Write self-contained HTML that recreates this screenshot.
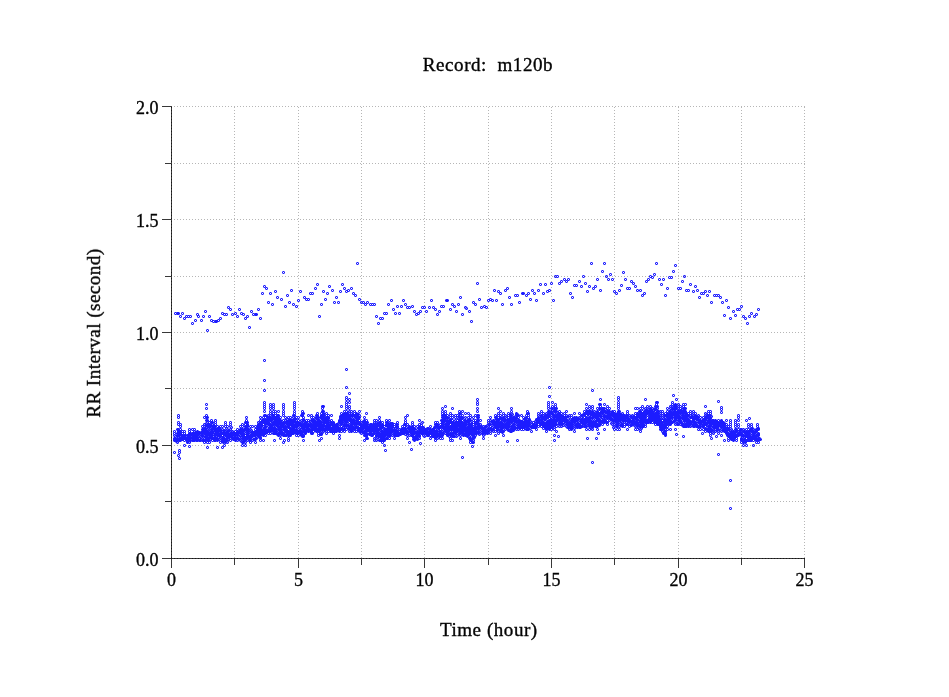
<!DOCTYPE html>
<html><head><meta charset="utf-8"><style>
html,body{margin:0;padding:0;background:#fff;}
svg{display:block;}
</style></head><body>
<svg width="949" height="697" viewBox="0 0 949 697">
<rect width="949" height="697" fill="#fff"/>
<path fill="none" stroke="#b6b6b6" stroke-width="1" stroke-dasharray="1 2" shape-rendering="crispEdges" d="M234.5 107V558M298.5 107V558M361.5 107V558M424.5 107V558M488.5 107V558M551.5 107V558M614.5 107V558M678.5 107V558M741.5 107V558M804.5 107V558M171 501.5H805M171 445.5H805M171 388.5H805M171 332.5H805M171 276.5H805M171 219.5H805M171 163.5H805M171 106.5H805"/><path fill="none" stroke="#383838" stroke-width="1" shape-rendering="crispEdges" d="M171.5 106V568M162 558.5H805M171.5 558V568M234.5 558V565M298.5 558V568M361.5 558V565M424.5 558V568M488.5 558V565M551.5 558V568M614.5 558V565M678.5 558V568M741.5 558V565M804.5 558V568M162 558.5H172M165 501.5H172M162 445.5H172M165 388.5H172M162 332.5H172M165 276.5H172M162 219.5H172M165 163.5H172M162 106.5H172"/><path fill="none" stroke="#181818" stroke-width="1" stroke-dasharray="1 2" shape-rendering="crispEdges" d="M171.5 107V558M171 558.5H805"/><g font-family="Liberation Serif" font-size="18" fill="#000" stroke="#000" stroke-width="0.35" opacity="0.99"><text x="171.5" y="586" text-anchor="middle">0</text><text x="298.5" y="586" text-anchor="middle">5</text><text x="424.5" y="586" text-anchor="middle">10</text><text x="551.5" y="586" text-anchor="middle">15</text><text x="678.5" y="586" text-anchor="middle">20</text><text x="804.5" y="586" text-anchor="middle">25</text><text x="158.5" y="565.5" text-anchor="end">0.0</text><text x="158.5" y="452.5" text-anchor="end">0.5</text><text x="158.5" y="339.5" text-anchor="end">1.0</text><text x="158.5" y="226.5" text-anchor="end">1.5</text><text x="158.5" y="113.5" text-anchor="end">2.0</text><text transform="translate(488,71) scale(1.06,1)" text-anchor="middle" letter-spacing="0.5" xml:space="preserve">Record:  m120b</text><text transform="translate(488.8,636) scale(1.06,1)" text-anchor="middle" letter-spacing="0.5">Time (hour)</text><text transform="translate(100,333) rotate(-90) scale(1.06,1)" text-anchor="middle" letter-spacing="0.45">RR Interval (second)</text></g><defs><marker id="m" markerUnits="userSpaceOnUse" markerWidth="4" markerHeight="4" refX="1" refY="1" overflow="visible"><path shape-rendering="crispEdges" fill="#1c1cff" d="M0 1h1v1H0zM2 1h1v1H2zM1 0h1v1H1zM1 2h1v1H1z"/><path shape-rendering="crispEdges" fill="#1c1cff" fill-opacity="0.5" d="M0 0h1v1H0zM2 0h1v1H2zM0 2h1v1H0zM2 2h1v1H2z"/></marker></defs><path fill="none" stroke="none" marker-start="url(#m)" marker-mid="url(#m)" marker-end="url(#m)" d="M175 313 177 313 178 313 180 316 182 313 184 318 186 316 188 316 190 316 192 323 195 320 197 314 198 316 201 320 203 316 205 311 207 330 209 316 211 320 213 321 215 321 216 321 218 320 220 318 222 313 224 314 226 314 228 307 230 309 232 314 235 313 237 316 239 309 241 313 243 314 245 318 247 316 249 327 251 311 253 314 255 314 256 314 258 309 260 318 262 293 264 286 266 288 268 302 270 293 272 304 275 291 277 297 281 299 283 272 285 306 287 295 289 302 291 290 293 304 296 306 298 300 300 291 304 297 306 299 308 299 310 293 312 293 315 288 317 284 319 316 321 304 323 291 325 299 327 293 329 286 332 290 334 302 336 297 338 302 340 291 342 284 344 288 346 291 348 290 351 288 353 293 355 295 357 263 359 299 361 302 363 302 365 304 367 302 370 304 372 304 374 304 376 316 378 323 380 318 382 318 384 313 386 313 388 304 391 300 393 309 395 313 397 306 399 313 401 306 403 300 405 304 407 307 409 307 412 306 414 311 416 314 418 313 420 311 422 307 424 307 426 311 429 307 431 300 433 307 435 309 437 314 439 311 441 306 443 306 446 300 447 300 450 309 452 304 454 306 456 311 458 304 460 297 462 314 465 307 466 308 469 311 471 321 473 302 475 304 477 283 479 299 481 307 484 306 486 307 488 300 490 299 492 300 494 290 496 300 498 291 500 293 502 304 505 290 507 288 509 297 511 304 515 295 517 295 519 302 522 293 523 293 526 295 528 293 530 299 532 290 534 293 536 300 538 290 540 284 543 293 545 284 547 291 549 290 551 283 553 300 555 276 557 276 559 283 561 281 564 279 566 281 568 279 570 293 572 297 574 285 576 285 579 281 581 286 583 276 585 283 587 291 589 286 591 263 593 288 595 286 597 279 600 290 602 271 604 263 606 276 608 279 610 274 612 279 614 291 616 293 619 290 621 285 623 272 625 279 627 288 629 288 631 281 633 283 635 286 637 290 640 290 642 295 644 293 646 281 648 279 650 276 652 277 654 274 656 263 659 279 661 284 663 279 665 295 667 288 669 277 671 277 673 271 675 265 678 288 680 288 682 281 684 276 686 290 688 290 690 284 693 291 695 286 697 290 699 297 701 293 703 293 705 291 707 295 709 291 711 302 714 295 716 295 718 295 720 297 722 302 724 315 726 300 728 307 730 318 733 311 735 315 737 309 739 309 741 306 743 316 745 318 747 323 749 316 751 313 754 316 756 314 758 309 174 440 174 438 174 435 174 433 174 431 177 440 177 438 177 435 177 433 177 429 177 442 179 440 179 438 179 433 179 431 182 438 182 435 182 433 182 431 184 440 184 438 184 435 184 433 184 431 184 445 187 440 187 438 187 435 187 442 189 442 189 440 189 435 189 433 189 431 189 429 192 440 192 438 192 435 192 433 192 429 194 440 194 438 194 435 194 433 194 431 194 429 197 440 197 438 197 435 197 433 197 431 199 440 199 438 199 435 199 433 202 440 202 438 202 435 202 431 202 429 202 426 204 442 204 440 204 438 204 435 204 433 204 431 204 429 204 426 204 424 204 417 207 442 207 440 207 438 207 435 207 433 207 431 207 429 207 426 207 424 207 422 207 420 207 417 209 440 209 438 209 435 209 433 209 431 209 429 209 426 209 424 209 422 209 442 212 440 212 438 212 435 212 433 212 431 212 429 212 426 212 424 212 422 215 440 215 438 215 435 215 433 215 431 215 429 215 426 215 424 217 440 217 438 217 435 217 433 217 431 217 429 217 426 217 447 220 440 220 438 220 435 220 433 220 431 220 429 220 426 220 442 222 440 222 438 222 435 222 433 222 429 222 426 222 447 225 442 225 440 225 435 225 433 225 431 227 440 227 438 227 435 227 433 227 431 227 429 227 426 227 442 230 438 230 435 230 433 230 431 230 429 230 426 230 440 232 438 232 435 232 431 235 440 235 435 235 433 235 431 237 440 237 438 237 435 237 433 237 431 237 429 240 440 240 435 240 433 240 431 240 429 240 426 242 442 242 440 242 438 242 435 242 433 242 431 242 429 242 426 242 424 245 442 245 438 245 435 245 433 245 431 245 429 245 426 245 424 245 422 245 445 247 438 247 435 247 433 247 431 247 429 247 426 247 424 247 422 250 440 250 438 250 435 250 433 250 431 250 429 250 426 250 442 252 440 252 438 252 435 252 433 252 426 255 438 255 435 255 433 255 431 255 429 255 426 255 442 258 435 258 433 258 431 258 426 258 424 258 422 260 438 260 435 260 433 260 431 260 429 260 426 260 424 260 422 260 420 260 417 260 440 263 435 263 433 263 431 263 429 263 426 263 424 263 422 263 420 263 417 263 440 265 431 265 429 265 426 265 424 265 422 265 420 265 417 265 415 265 435 268 433 268 431 268 429 268 426 268 424 268 422 268 420 268 417 268 415 270 431 270 429 270 424 270 422 270 420 270 417 270 415 270 413 270 411 270 433 273 431 273 429 273 426 273 424 273 422 273 420 273 417 273 415 273 413 273 411 273 433 275 433 275 431 275 429 275 426 275 424 275 422 275 420 275 417 275 415 275 413 275 411 278 435 278 433 278 431 278 429 278 426 278 424 278 422 278 420 278 417 278 415 278 411 280 435 280 433 280 431 280 429 280 426 280 424 280 420 280 417 280 438 283 435 283 433 283 431 283 429 283 426 283 424 283 422 283 442 285 435 285 433 285 431 285 429 285 424 285 422 285 420 285 417 288 431 288 429 288 426 288 424 288 422 288 420 288 417 288 438 290 435 290 433 290 431 290 429 290 426 290 424 290 422 290 420 290 417 293 433 293 431 293 429 293 426 293 424 293 422 293 420 293 417 293 415 296 433 296 431 296 429 296 426 296 424 296 422 296 420 296 417 296 435 298 433 298 429 298 424 298 422 298 420 298 417 298 435 301 433 301 431 301 429 301 426 301 424 301 422 301 420 301 415 301 435 303 435 303 433 303 431 303 429 303 426 303 424 303 420 303 417 303 413 306 431 306 429 306 426 306 424 306 422 306 420 308 431 308 429 308 426 308 424 308 422 308 420 308 415 311 433 311 431 311 429 311 426 311 424 311 420 311 417 313 431 313 429 313 426 313 424 313 422 313 420 313 417 316 431 316 429 316 426 316 424 316 422 316 420 316 417 316 415 318 435 318 433 318 431 318 429 318 426 318 424 318 422 318 420 318 417 321 433 321 431 321 429 321 426 321 424 321 422 321 420 321 417 321 415 321 413 321 438 323 431 323 429 323 426 323 422 323 420 323 417 323 415 323 413 323 411 323 406 326 431 326 429 326 426 326 422 326 420 326 417 326 415 326 413 326 433 328 431 328 429 328 426 328 424 328 422 328 420 328 417 328 415 331 431 331 429 331 426 331 424 331 422 331 420 331 415 333 429 333 426 333 424 333 422 333 433 336 431 336 429 336 426 336 424 339 431 339 429 339 426 339 424 339 422 339 420 339 435 341 429 341 426 341 424 341 422 341 420 341 417 341 415 341 413 341 406 341 431 344 429 344 426 344 424 344 422 344 420 344 417 344 415 344 413 344 411 344 431 346 429 346 426 346 424 346 422 346 420 346 417 346 415 346 413 346 411 346 408 349 431 349 429 349 424 349 422 349 420 349 417 349 415 349 413 349 411 349 408 351 431 351 429 351 426 351 424 351 422 351 420 351 417 351 413 351 411 354 429 354 426 354 424 354 422 354 420 354 415 354 413 354 411 354 431 356 429 356 426 356 424 356 422 356 420 356 417 356 415 356 413 356 431 359 431 359 429 359 426 359 424 359 422 359 420 359 417 359 415 359 411 361 433 361 431 361 429 361 426 361 422 364 435 364 433 364 431 364 429 364 426 364 424 364 422 364 420 364 417 364 440 366 435 366 433 366 431 366 429 366 426 366 424 366 422 366 420 366 413 366 438 369 433 369 429 369 426 371 431 371 429 371 426 371 424 374 440 374 438 374 433 374 431 374 429 374 424 374 422 374 420 376 440 376 438 376 435 376 433 376 431 376 429 376 426 376 424 376 422 376 420 379 440 379 438 379 435 379 433 379 431 379 429 379 426 379 424 379 422 379 420 379 417 382 440 382 438 382 435 382 433 382 431 382 426 382 424 382 422 382 442 384 440 384 438 384 435 384 433 384 431 384 429 384 426 384 445 387 438 387 435 387 433 387 431 387 429 387 426 387 424 387 422 389 435 389 433 389 431 389 429 389 426 389 424 389 420 389 438 392 435 392 433 392 431 392 426 392 424 394 435 394 433 394 429 394 426 394 424 394 438 397 435 397 433 397 431 397 429 397 426 397 424 397 422 399 433 399 431 399 429 402 433 402 429 402 426 404 433 404 431 404 429 404 426 404 424 407 435 407 433 407 429 407 426 407 424 407 415 407 438 409 435 409 433 409 431 409 426 409 442 412 435 412 433 412 431 412 429 412 426 412 424 412 422 414 440 414 438 414 435 414 433 414 431 414 429 414 426 417 438 417 435 417 433 417 431 417 429 417 426 419 435 419 431 419 429 419 426 419 424 419 420 419 438 422 433 422 429 422 422 425 435 425 433 425 431 425 429 427 435 427 433 427 431 427 429 430 435 430 433 430 431 430 429 430 426 430 438 432 435 432 433 432 431 432 429 435 438 435 435 435 433 435 431 435 429 435 426 435 424 435 422 435 440 437 438 437 435 437 433 437 431 437 429 437 426 437 424 437 422 440 438 440 435 440 433 440 431 440 429 440 426 440 424 442 435 442 433 442 431 442 429 442 426 442 424 442 422 442 420 442 417 442 415 442 413 442 411 442 408 442 438 445 433 445 431 445 429 445 424 445 422 445 420 445 417 445 415 445 413 445 406 447 435 447 433 447 431 447 429 447 426 447 424 447 422 447 420 447 417 447 415 450 438 450 435 450 433 450 431 450 429 450 426 450 424 450 422 450 420 450 417 450 415 450 413 450 440 452 435 452 433 452 431 452 429 452 426 452 424 452 422 452 420 452 417 452 415 452 408 452 440 455 435 455 433 455 431 455 429 455 426 455 424 455 422 455 420 455 417 455 415 457 435 457 433 457 429 457 426 457 424 457 422 457 420 457 417 457 415 460 433 460 431 460 429 460 426 460 424 460 422 460 420 460 417 460 415 460 413 460 438 462 433 462 431 462 429 462 426 462 424 462 422 462 420 462 417 462 415 462 411 465 435 465 433 465 431 465 429 465 424 465 422 465 420 465 417 465 413 468 435 468 433 468 431 468 429 468 426 468 424 468 422 468 420 468 417 468 413 470 442 470 440 470 438 470 435 470 433 470 431 470 429 470 426 470 422 470 420 470 417 470 415 473 442 473 440 473 438 473 435 473 433 473 429 473 426 473 424 473 422 473 420 473 417 475 435 475 433 475 431 475 429 475 424 475 420 475 415 478 433 478 431 478 429 478 426 478 424 478 420 478 417 478 415 480 429 480 426 480 424 480 420 483 433 483 431 483 429 483 426 483 438 485 433 485 431 485 429 485 426 488 431 488 429 488 424 488 422 488 420 490 431 490 429 490 426 490 424 490 422 490 420 490 417 490 433 493 431 493 429 493 426 493 424 493 422 493 420 495 431 495 429 495 426 495 424 495 422 495 420 495 417 495 415 495 435 498 431 498 429 498 426 498 424 498 422 498 420 498 417 498 415 498 413 498 408 498 433 500 431 500 429 500 426 500 424 500 422 500 420 500 417 500 415 500 411 503 431 503 429 503 426 503 424 503 422 503 420 503 417 503 415 503 413 503 435 505 429 505 426 505 424 505 422 505 420 505 417 505 415 508 429 508 426 508 424 508 422 508 420 508 417 508 415 508 413 511 431 511 429 511 424 511 422 511 420 511 417 511 415 511 413 511 411 511 408 513 429 513 426 513 424 513 420 513 417 516 429 516 426 516 424 516 422 516 420 516 417 516 415 516 413 518 426 518 424 518 422 518 420 518 417 518 415 521 429 521 426 521 424 521 422 521 415 523 429 523 426 523 424 523 422 523 420 523 417 526 429 526 426 526 424 526 420 526 417 528 429 528 426 528 424 528 422 528 417 528 415 528 413 531 426 531 424 531 422 531 431 533 426 533 424 533 422 536 426 536 424 536 422 536 420 536 429 538 426 538 424 538 422 538 420 538 417 538 415 538 413 541 426 541 424 541 422 541 420 541 417 541 415 541 413 541 411 543 426 543 424 543 422 543 420 543 417 543 415 543 413 546 429 546 426 546 424 546 422 546 417 546 415 546 413 546 431 549 429 549 426 549 424 549 422 549 420 549 415 549 413 549 411 551 429 551 426 551 424 551 422 551 420 551 417 551 415 551 413 551 411 551 408 554 429 554 424 554 422 554 420 554 417 554 415 554 413 554 411 554 408 554 435 556 426 556 424 556 420 556 415 556 413 556 411 556 408 556 431 559 424 559 422 559 420 559 417 559 415 559 413 559 411 559 426 561 424 561 422 561 417 561 415 561 413 561 426 564 424 564 420 564 417 564 415 564 413 566 426 566 422 566 420 566 417 566 415 566 411 569 429 569 426 569 424 569 422 569 420 569 417 569 415 571 429 571 426 571 424 571 422 571 420 571 417 571 415 574 426 574 424 574 422 574 420 574 417 574 413 574 431 576 426 576 424 576 422 576 420 576 417 579 426 579 424 579 422 579 417 579 413 581 426 581 424 581 420 581 417 581 415 584 426 584 424 584 422 584 420 584 417 584 415 584 413 584 411 586 426 586 424 586 422 586 420 586 417 586 415 586 411 586 408 586 404 586 429 589 426 589 424 589 422 589 420 589 417 589 415 589 413 589 411 589 408 589 406 589 429 592 429 592 426 592 424 592 422 592 420 592 417 592 415 592 411 592 408 592 406 594 424 594 422 594 415 594 413 594 411 597 426 597 424 597 422 597 420 597 417 597 415 597 413 597 411 597 408 597 429 599 424 599 422 599 420 599 417 599 415 599 413 599 411 599 408 599 404 602 422 602 420 602 417 602 415 602 413 602 411 602 408 602 424 604 422 604 420 604 417 604 415 604 413 604 411 604 408 604 404 604 429 607 422 607 420 607 417 607 415 607 413 607 411 607 408 607 406 607 424 609 420 609 417 609 415 609 413 609 411 609 408 612 424 612 422 612 420 612 417 612 415 612 413 612 411 614 424 614 422 614 420 614 417 614 415 614 413 614 411 614 429 617 426 617 424 617 422 617 420 617 417 617 415 617 413 617 429 619 426 619 424 619 422 619 420 619 417 619 415 619 413 619 411 619 429 622 426 622 422 622 420 622 417 622 413 624 424 624 422 624 420 624 417 624 415 624 426 627 424 627 420 627 417 627 415 627 413 627 411 627 429 629 424 629 422 629 420 629 417 629 415 629 426 632 424 632 422 632 420 632 417 632 415 635 426 635 424 635 422 635 420 635 417 635 415 635 413 635 408 635 429 637 426 637 424 637 422 637 420 637 417 637 415 637 413 637 408 637 429 640 429 640 426 640 424 640 420 640 417 640 415 640 413 640 411 640 408 640 431 642 426 642 424 642 422 642 417 642 415 642 413 642 411 642 408 642 406 645 424 645 422 645 420 645 417 645 415 645 413 645 411 645 408 645 399 645 426 647 422 647 420 647 415 647 413 647 411 647 408 647 406 650 422 650 420 650 417 650 415 650 413 650 411 650 408 650 406 652 422 652 420 652 417 652 415 652 413 652 411 652 408 655 422 655 420 655 417 655 415 655 413 655 411 655 408 655 406 655 424 657 424 657 422 657 420 657 417 657 415 657 413 657 411 657 408 657 406 657 402 660 429 660 424 660 422 660 420 660 417 660 415 660 413 660 411 662 431 662 429 662 424 662 422 662 420 662 417 662 415 662 413 662 411 665 435 665 433 665 429 665 426 665 424 665 422 665 420 665 415 665 413 667 426 667 424 667 422 667 420 667 417 667 415 667 413 667 411 667 408 667 429 670 424 670 422 670 420 670 415 670 413 670 411 670 408 670 406 670 429 672 422 672 420 672 417 672 413 672 411 672 408 672 406 672 404 672 402 675 424 675 422 675 420 675 417 675 415 675 413 675 411 675 408 675 406 675 404 675 429 678 424 678 422 678 420 678 417 678 415 678 413 678 411 678 408 678 406 678 404 680 424 680 422 680 420 680 417 680 415 680 413 680 411 680 408 680 406 683 426 683 424 683 422 683 417 683 415 683 413 683 411 683 408 683 406 683 404 685 426 685 424 685 422 685 420 685 417 685 415 685 413 685 411 685 408 685 404 688 426 688 424 688 422 688 420 688 417 688 415 688 413 690 426 690 424 690 422 690 417 690 415 690 413 690 411 693 426 693 424 693 422 693 420 693 417 693 415 693 413 693 411 695 424 695 422 695 420 695 417 695 415 695 413 698 426 698 424 698 420 698 415 698 429 700 426 700 424 700 422 700 420 700 417 700 429 703 426 703 424 703 420 703 417 703 429 705 429 705 426 705 424 705 422 705 420 705 417 705 415 705 413 705 406 705 431 708 431 708 429 708 426 708 424 708 422 708 420 708 417 708 415 708 413 708 411 710 433 710 431 710 429 710 426 710 424 710 422 710 420 710 417 710 415 710 413 710 411 710 435 713 431 713 429 713 426 713 424 713 422 713 433 715 431 715 429 715 426 715 424 715 422 715 420 718 431 718 429 718 426 718 424 718 422 718 420 718 433 721 431 721 429 721 426 721 424 721 422 721 420 721 435 723 429 723 426 723 424 723 422 726 433 726 431 726 429 726 426 726 424 726 420 728 438 728 435 728 433 728 431 728 429 728 426 728 440 731 438 731 435 731 433 731 431 731 429 733 440 733 438 733 435 733 433 733 431 736 438 736 433 736 429 736 440 738 435 738 433 738 431 738 429 741 440 741 438 741 435 741 433 741 431 741 429 741 442 743 442 743 438 743 435 743 433 743 431 743 429 743 445 746 438 746 435 746 433 746 431 746 429 746 420 748 440 748 438 748 435 748 433 748 431 748 429 751 440 751 438 751 435 751 433 751 431 751 429 751 424 753 440 753 438 753 435 753 433 753 431 753 429 753 445 756 440 756 438 756 435 756 433 756 431 756 429 756 442 758 440 758 438 758 435 758 433 758 429 758 442 174 439 175 436 175 440 176 441 176 440 177 439 178 437 178 439 178 435 180 440 180 436 180 434 180 438 181 438 181 437 181 435 182 439 183 437 183 438 185 438 185 435 186 438 186 439 187 439 187 441 188 441 188 437 188 435 189 437 190 433 189 434 190 440 190 437 191 439 192 434 191 436 192 437 193 439 193 433 193 440 193 437 195 437 194 434 195 439 195 435 195 438 195 432 195 433 196 432 196 440 196 437 197 432 197 439 197 434 197 437 198 439 198 433 198 434 199 432 200 436 200 434 200 440 201 435 201 432 201 439 203 431 202 433 202 432 203 440 203 437 203 429 203 434 204 428 205 428 204 430 205 434 205 433 205 429 205 440 205 425 205 430 206 430 206 437 206 439 206 423 206 425 206 436 207 432 207 425 207 439 207 434 208 426 208 433 208 440 208 424 208 432 208 430 208 434 210 430 210 433 209 434 209 437 210 425 210 439 210 436 211 431 210 428 210 437 211 427 211 435 211 436 212 428 211 425 211 434 212 432 213 434 214 426 213 426 213 436 213 438 214 440 214 438 214 427 214 432 215 430 214 429 215 434 216 436 216 433 216 432 216 431 216 439 216 438 216 429 217 434 218 437 217 432 217 439 218 434 218 428 218 431 218 429 219 428 219 429 219 432 220 436 220 434 220 430 221 439 221 433 221 437 222 431 222 441 223 430 223 442 223 439 223 432 223 441 223 438 225 439 224 434 224 432 224 436 224 430 225 434 225 441 225 437 226 441 226 440 226 434 226 428 226 432 228 439 227 432 227 437 227 436 228 435 228 430 228 437 229 435 228 434 229 430 229 436 229 434 230 436 231 427 231 435 231 432 231 437 231 433 231 436 233 432 233 438 233 439 233 433 234 435 235 439 234 437 235 437 236 438 236 433 236 434 237 434 237 432 238 439 238 438 238 432 239 431 239 437 239 434 241 437 241 434 241 439 241 433 241 441 241 429 242 436 242 432 243 442 243 437 243 435 243 441 243 438 243 434 244 430 244 438 244 441 244 429 244 432 244 437 245 428 245 439 246 438 246 437 246 428 246 426 247 430 247 434 247 428 248 439 247 425 247 440 247 436 248 436 248 431 248 429 249 440 249 432 249 437 250 437 249 438 249 430 251 434 251 430 251 436 251 435 253 435 253 439 252 432 253 433 253 432 254 433 254 439 254 435 255 432 255 439 256 433 256 438 256 434 257 431 256 431 257 428 257 435 257 426 258 425 258 436 258 427 258 428 259 423 259 437 259 433 259 429 259 432 260 425 260 423 260 428 260 434 260 437 261 429 260 432 261 424 261 425 261 422 261 433 261 426 262 421 262 420 262 431 262 433 262 430 263 419 264 433 263 434 264 420 264 427 264 429 264 428 264 422 265 423 265 432 265 427 266 421 266 423 266 431 266 432 267 431 267 419 267 421 267 420 267 417 267 416 268 430 269 423 268 419 268 423 269 427 270 425 269 418 269 417 270 430 270 418 270 427 272 424 271 420 271 416 271 426 271 427 271 419 272 428 272 418 272 429 272 415 272 419 272 425 274 432 273 416 274 428 274 422 274 421 274 433 274 431 275 430 274 427 275 418 275 419 276 421 276 419 276 429 276 420 276 425 276 433 277 415 276 424 277 424 278 427 277 434 277 416 277 420 277 417 277 419 278 421 278 419 279 432 278 418 278 434 280 422 279 434 279 430 280 432 279 429 279 423 281 431 280 421 280 423 280 428 281 434 282 426 282 424 281 433 281 426 282 425 282 433 282 423 282 432 282 434 283 427 283 423 284 423 284 429 284 435 284 425 285 427 284 434 285 426 285 428 286 422 287 434 286 435 287 433 286 434 286 421 286 431 287 422 287 421 287 423 287 419 287 426 287 431 288 421 288 425 288 435 288 423 288 427 290 419 289 423 289 432 289 435 289 433 289 422 289 420 291 424 290 421 290 428 290 432 290 434 291 420 291 430 292 429 292 426 291 425 292 428 292 433 292 430 292 420 292 422 292 421 293 428 293 427 294 429 293 425 294 425 295 425 294 432 294 419 295 426 294 418 294 431 295 421 295 422 295 428 296 432 296 423 296 430 297 428 297 422 297 425 297 433 298 425 298 432 299 424 300 431 300 424 300 430 300 427 300 423 301 434 301 425 302 434 301 432 302 423 303 419 302 428 303 425 302 432 302 421 302 426 302 436 303 436 303 422 303 428 303 427 305 425 304 431 304 430 304 427 304 424 305 424 305 432 305 433 305 422 306 427 306 430 307 425 307 429 307 426 307 423 308 428 308 430 308 425 309 430 309 429 309 427 310 431 310 421 310 424 310 425 311 422 312 423 312 433 311 430 312 429 312 420 312 426 313 421 313 419 314 425 314 426 314 424 314 421 315 426 315 424 315 428 315 429 315 430 317 418 316 425 316 430 316 418 317 421 317 417 317 429 317 422 317 425 317 419 317 430 318 423 318 421 318 425 319 431 319 427 319 422 319 426 320 425 319 428 320 430 320 422 320 428 320 434 320 423 320 429 320 419 321 416 321 425 321 434 321 428 322 419 322 429 322 415 322 425 322 427 322 417 322 426 322 432 323 419 323 425 323 428 323 414 325 424 324 430 324 418 324 417 324 422 325 421 325 420 325 428 325 430 325 429 326 418 326 423 327 422 327 417 327 420 328 425 327 426 327 427 328 418 328 428 329 427 329 421 330 422 329 425 329 428 330 429 330 427 330 431 330 424 332 431 331 423 332 428 332 424 333 428 332 430 333 430 333 431 333 423 334 426 334 431 334 430 335 426 335 429 335 431 336 427 337 424 337 428 337 427 338 430 338 423 338 425 339 421 339 430 340 416 340 418 340 422 341 423 340 429 340 417 341 419 341 428 342 415 342 417 342 416 342 422 343 415 342 428 342 420 343 427 343 419 343 417 344 414 343 423 343 429 343 421 344 419 344 418 344 425 345 427 345 414 345 420 345 423 345 421 345 416 345 417 346 419 346 425 346 421 347 413 346 418 347 416 347 419 347 415 347 417 347 418 347 427 348 415 348 425 348 426 348 412 348 419 348 417 349 428 349 426 349 418 350 415 350 419 350 416 350 420 350 430 350 425 351 425 351 430 351 427 351 421 352 414 352 420 352 422 352 429 352 418 352 421 352 415 353 425 353 415 353 427 353 428 353 420 353 417 354 428 354 423 355 427 355 425 355 421 355 423 355 419 355 416 357 414 356 416 356 414 356 423 356 427 357 428 357 420 357 418 357 423 357 416 358 417 358 429 358 430 358 422 358 414 358 418 358 428 359 430 359 428 359 423 360 429 360 431 360 432 360 424 361 427 361 428 361 425 362 423 362 428 362 427 362 431 363 422 363 428 363 421 363 424 364 421 365 426 364 432 364 425 364 427 365 430 365 435 365 425 365 433 365 422 366 436 365 424 366 423 366 430 366 434 366 428 367 422 367 424 367 426 367 429 368 430 369 434 368 429 369 430 370 431 370 426 369 427 370 424 370 425 370 427 371 430 371 435 371 428 371 434 372 426 372 430 372 435 372 425 372 428 373 428 373 427 373 433 373 425 373 429 373 424 374 425 374 427 374 430 375 428 375 427 376 425 375 439 375 424 376 430 375 423 376 436 376 427 377 423 377 429 377 433 378 432 377 425 377 437 377 432 378 435 379 436 378 424 378 429 378 423 380 439 379 434 380 426 380 422 380 440 381 436 380 432 380 428 380 436 382 425 381 440 381 428 381 435 382 437 381 431 382 427 382 429 383 440 383 439 383 437 383 433 385 433 384 434 384 439 385 429 385 431 385 437 385 434 386 438 386 430 386 431 386 429 387 434 386 425 386 436 387 425 387 430 387 432 388 424 388 434 388 435 388 423 389 432 389 427 389 428 389 436 390 423 391 432 390 432 390 430 390 426 390 435 391 430 391 423 391 429 391 426 391 424 392 427 392 425 392 423 392 430 393 434 394 430 393 428 394 431 396 430 395 430 395 432 395 433 395 435 395 434 396 431 396 424 396 435 396 432 396 427 397 432 397 427 398 430 399 434 398 435 400 434 401 429 401 430 401 432 402 428 403 432 402 432 403 429 404 432 403 433 404 430 404 428 405 430 405 434 405 431 406 427 406 431 406 430 406 432 407 432 408 430 408 434 409 428 409 427 409 429 410 430 410 431 410 429 410 427 411 435 411 431 411 432 411 430 411 429 412 428 412 434 412 427 413 428 413 432 413 439 413 437 413 429 414 432 414 428 414 439 414 437 415 439 415 437 415 434 416 437 417 439 417 434 416 433 417 432 418 435 418 437 418 428 419 427 419 436 419 428 419 432 420 432 420 429 420 427 420 431 421 427 421 423 421 425 421 433 421 431 422 428 423 430 423 427 422 427 423 435 423 431 424 436 425 432 424 429 425 430 426 433 426 432 426 431 428 435 427 428 428 434 428 433 428 428 430 432 429 431 430 430 432 434 431 431 431 430 432 436 432 430 433 434 433 429 433 436 433 431 434 427 434 431 434 430 435 436 434 435 435 427 436 435 435 437 436 432 436 433 436 424 436 431 436 425 438 432 438 428 437 425 438 430 438 437 438 427 439 434 439 436 439 433 440 432 440 436 440 434 441 435 441 432 441 420 441 434 441 433 441 426 442 427 442 425 442 421 443 426 442 423 444 421 443 422 443 433 443 421 443 430 443 415 443 417 444 415 444 428 444 419 445 418 444 418 444 420 444 423 445 428 445 427 445 426 446 428 446 424 446 432 446 417 446 430 446 419 446 429 446 431 447 428 448 419 448 428 447 425 447 434 447 421 448 421 448 431 448 423 448 424 448 427 449 422 449 430 449 420 449 436 449 434 449 428 449 429 450 419 451 427 450 434 451 422 451 435 451 429 451 426 451 428 452 436 452 434 452 427 453 433 453 426 453 428 453 430 453 424 454 425 453 436 454 429 454 428 454 421 454 436 454 430 454 426 455 432 455 423 455 430 456 429 456 428 456 427 456 436 456 431 456 422 457 425 457 431 458 422 457 423 457 428 458 430 458 427 458 418 458 432 458 429 459 430 459 428 459 420 459 422 459 416 459 417 459 433 459 423 460 421 460 425 460 419 461 434 460 435 460 428 461 417 461 422 461 431 461 424 461 426 463 433 462 428 463 426 462 427 463 435 463 425 464 418 463 428 463 424 463 434 463 429 464 429 464 424 464 427 464 428 464 434 464 423 465 423 465 421 465 434 465 425 465 427 467 432 466 429 466 431 466 432 466 422 466 433 467 427 467 436 467 435 467 431 467 429 469 429 468 421 468 419 468 427 468 428 469 433 470 432 469 438 469 424 469 436 469 419 469 420 470 428 470 427 470 424 470 430 471 427 471 440 471 433 471 426 471 424 471 423 471 439 472 432 472 428 472 441 472 434 472 427 472 429 472 438 472 442 473 432 473 431 473 434 474 432 473 436 474 433 474 437 474 436 474 429 474 431 475 427 475 423 475 428 475 422 476 425 476 433 476 423 476 422 476 428 476 432 477 420 477 424 477 430 477 421 477 427 478 432 478 423 478 428 479 425 478 427 479 430 479 427 479 426 479 434 480 427 481 428 480 433 481 426 481 432 482 428 482 429 482 433 483 432 483 435 484 428 484 434 484 427 485 432 485 430 486 426 486 431 486 430 487 425 487 433 487 432 487 427 488 430 488 428 489 424 489 430 489 429 490 428 491 429 491 421 492 421 491 423 492 429 492 427 492 430 493 421 494 424 495 423 494 425 494 421 495 427 496 418 496 419 496 425 496 417 496 426 496 427 497 429 497 426 497 421 497 422 497 425 497 430 499 426 498 419 498 425 499 424 499 428 499 423 500 425 500 430 500 418 501 430 501 422 501 429 501 419 502 431 502 424 502 419 502 432 502 426 502 427 503 425 503 418 504 423 504 420 504 421 504 428 504 426 504 419 505 427 506 421 506 424 506 418 506 416 507 428 507 420 507 426 507 427 508 423 507 422 508 419 508 425 508 430 509 430 509 426 509 421 509 428 509 422 510 417 510 414 510 431 510 427 511 428 510 415 510 418 512 414 511 421 511 418 511 430 512 428 512 421 512 427 512 426 512 425 513 430 512 418 513 425 513 427 513 428 514 427 514 417 514 419 514 421 514 420 514 428 515 416 515 423 515 421 516 421 516 418 516 414 517 428 517 423 517 427 517 415 517 414 519 420 518 425 518 421 518 429 518 427 519 427 519 424 520 425 520 426 520 422 520 427 521 421 522 427 522 424 523 427 524 422 524 427 524 424 524 425 524 419 525 419 525 423 525 420 525 424 525 425 526 418 526 421 526 415 527 425 526 427 527 422 527 428 527 429 528 425 528 421 529 420 529 424 529 419 530 421 530 428 530 423 531 427 532 427 532 426 533 427 534 424 534 427 535 421 535 427 535 425 536 425 536 419 537 422 537 419 538 419 538 418 539 420 540 424 539 422 539 419 539 416 540 423 540 421 541 419 541 416 543 425 542 416 542 421 542 422 542 417 544 419 543 423 543 428 544 416 544 426 546 427 545 416 545 428 545 415 545 417 545 419 546 416 546 428 546 425 546 423 546 418 547 417 548 416 547 414 547 415 547 421 547 423 548 424 548 414 549 428 548 421 548 415 548 413 549 418 549 427 550 420 551 427 550 422 550 426 550 425 550 421 552 427 552 416 551 412 551 425 551 421 552 413 553 422 552 410 552 426 552 420 552 422 553 423 553 419 553 414 553 426 553 415 553 424 554 416 554 419 554 427 555 411 555 424 555 422 555 421 555 423 555 418 557 415 557 420 556 419 558 421 557 414 557 412 557 417 559 416 558 415 558 417 559 423 559 419 559 414 560 423 560 425 560 417 560 422 560 415 562 423 562 416 561 423 562 420 562 418 562 419 562 417 563 420 563 425 563 419 563 422 565 425 564 419 564 418 565 417 565 420 567 420 567 427 567 424 567 422 567 423 567 416 568 416 568 421 568 427 568 426 569 423 571 425 570 423 570 421 570 428 572 426 571 428 572 420 572 419 572 421 572 422 573 419 573 423 575 423 574 421 574 418 574 428 575 420 575 427 575 425 576 418 576 425 577 426 577 427 577 423 577 424 577 418 578 418 579 427 578 419 578 421 579 425 579 420 580 418 580 425 580 427 581 421 581 422 581 419 582 420 582 419 582 415 582 426 583 423 583 414 584 414 583 420 583 421 584 423 585 419 584 419 585 420 585 426 585 423 585 413 585 421 586 421 586 418 586 412 587 411 587 421 587 420 587 423 587 425 588 413 588 419 588 414 588 424 588 411 588 420 589 425 589 418 589 421 589 419 589 423 590 424 590 423 591 414 590 413 590 412 590 427 590 411 590 418 591 419 591 424 591 426 591 422 591 428 591 416 592 413 592 414 592 427 592 412 593 424 593 417 593 422 593 419 593 412 594 414 594 423 595 421 594 425 595 425 595 424 595 426 595 415 595 423 596 417 596 424 596 421 596 413 596 416 596 418 596 426 598 416 597 425 597 418 597 412 599 425 598 413 598 415 598 425 598 419 598 420 598 414 600 416 600 413 600 415 600 422 601 412 601 411 601 416 601 419 602 421 602 409 602 412 603 410 603 414 603 408 603 420 603 421 603 411 604 419 604 421 605 409 604 416 605 411 605 420 605 412 605 421 606 416 606 417 606 422 607 418 607 412 608 414 608 412 608 417 608 415 608 411 609 414 610 418 610 417 610 419 610 415 611 419 611 413 611 414 611 423 611 418 613 415 613 413 612 412 613 421 613 416 613 427 613 420 614 419 614 426 614 414 615 416 615 425 615 417 615 414 615 420 615 421 616 419 616 420 616 418 616 426 616 415 617 416 617 423 618 421 618 418 618 413 618 415 618 417 618 420 619 416 619 418 619 414 619 419 620 417 620 423 620 425 620 419 620 416 621 415 621 414 621 425 621 421 621 417 622 415 622 416 622 425 622 424 623 415 623 420 623 421 623 418 624 418 624 416 625 420 626 424 625 418 625 416 626 417 626 416 626 415 627 421 627 418 628 423 628 420 628 418 628 416 629 419 629 421 630 423 631 417 630 421 631 416 631 421 631 425 631 424 632 423 633 417 632 421 633 418 633 421 633 420 633 424 633 416 634 421 634 419 634 422 634 425 635 418 635 423 636 419 637 423 636 425 636 422 636 424 637 414 637 419 637 416 637 425 638 418 638 425 638 424 639 423 639 416 639 411 639 428 639 425 639 413 639 414 641 423 640 416 640 421 640 427 641 417 640 422 641 424 641 421 641 420 641 413 642 416 641 416 641 428 643 426 642 420 642 419 643 416 643 425 643 413 643 414 643 422 643 419 644 415 645 412 644 423 644 416 644 417 644 412 645 410 645 419 645 421 645 414 646 410 646 422 646 411 646 420 646 409 647 412 648 414 647 410 648 411 648 419 648 422 648 409 649 419 649 415 649 417 649 413 650 409 650 410 650 419 650 414 650 421 651 409 652 418 651 420 651 411 651 417 652 419 653 414 652 416 653 415 653 413 653 419 653 416 653 418 654 422 654 409 654 415 655 416 655 419 655 409 656 419 656 410 656 407 656 413 656 416 657 423 657 421 657 414 657 418 657 412 658 416 658 421 658 420 658 424 658 411 658 415 658 418 659 412 659 416 659 422 659 424 660 419 659 421 661 428 660 426 660 427 661 416 660 425 661 429 661 423 661 427 661 425 661 422 662 428 662 425 663 433 663 430 664 424 664 415 664 431 663 427 664 421 665 431 664 419 664 433 664 422 664 428 664 427 665 417 665 419 665 425 665 434 665 427 666 422 666 424 667 423 666 420 666 418 667 416 667 414 668 420 668 419 668 418 668 421 668 415 669 415 669 418 669 414 669 411 669 424 670 421 670 417 670 423 670 412 671 422 671 416 671 410 671 417 671 407 671 412 672 409 672 414 673 412 673 410 673 421 673 416 673 413 673 407 674 413 674 412 674 406 674 417 674 408 674 421 675 412 674 411 675 416 675 405 675 419 675 407 676 414 676 413 676 408 676 410 676 423 676 417 676 412 677 413 678 412 677 407 677 416 677 417 677 424 678 416 678 418 679 419 679 420 679 423 679 416 679 418 679 421 681 412 680 412 681 411 680 418 680 410 681 422 681 416 682 425 681 419 682 417 683 410 682 424 682 413 682 409 682 412 684 423 683 416 684 420 684 411 684 408 684 418 684 419 684 426 686 417 686 420 685 425 685 416 686 424 686 414 686 413 686 423 686 426 687 424 687 420 687 425 687 415 687 416 687 419 688 421 688 425 688 423 689 422 689 424 689 425 690 423 689 418 690 421 692 414 691 416 691 422 691 425 691 417 692 417 692 416 692 421 693 421 694 423 693 418 693 419 694 421 694 422 694 426 694 424 695 425 696 425 695 423 696 426 695 416 696 417 697 418 696 418 697 417 697 426 697 416 698 417 698 422 699 422 699 426 699 423 699 420 700 423 701 421 701 422 701 425 702 426 703 419 703 422 703 425 704 422 704 421 705 428 705 418 705 419 705 423 706 417 706 424 706 416 706 414 706 423 707 429 708 428 707 423 707 415 707 419 708 418 708 421 709 423 709 426 709 431 709 429 709 418 709 421 709 422 709 415 710 425 710 418 710 421 711 416 712 428 711 427 711 422 711 430 712 430 712 422 713 420 712 420 712 432 714 426 713 423 714 427 714 421 714 430 715 421 715 423 716 425 716 426 716 423 716 427 717 426 717 429 717 422 717 430 719 425 719 424 720 430 720 424 721 427 720 422 721 421 721 425 721 423 722 423 723 430 722 425 722 428 723 423 723 427 724 426 724 424 724 431 724 423 725 428 725 427 725 431 726 432 727 429 727 435 727 428 728 428 728 434 730 436 729 436 729 434 729 432 730 437 731 437 730 428 730 430 731 436 731 432 731 439 732 435 733 437 732 438 733 439 733 432 734 434 734 437 734 435 734 436 735 436 735 431 735 435 736 436 736 431 736 430 737 434 737 432 737 435 738 434 740 432 740 429 739 432 739 433 740 433 740 430 741 434 742 430 741 439 742 437 742 435 742 439 742 440 743 441 744 434 745 436 744 431 744 440 744 439 745 435 745 441 745 442 745 432 745 440 746 436 747 433 746 432 747 436 748 432 747 440 747 434 749 437 749 435 749 438 749 431 749 440 750 437 750 429 750 430 750 438 750 440 751 428 751 430 752 428 752 438 752 436 752 430 752 434 753 436 753 432 753 437 754 436 754 435 755 431 755 439 755 438 755 434 756 439 756 436 757 439 757 434 757 429 758 428 758 439 758 434 759 439 759 438 760 439 178 433 178 431 178 429 178 424 178 422 178 417 178 415 180 433 180 431 180 429 180 426 180 424 206 420 206 417 206 415 211 422 211 420 215 422 215 420 225 426 225 424 225 422 230 424 230 422 246 422 246 420 246 417 264 415 264 411 264 408 264 406 264 404 264 402 270 408 270 406 270 404 273 408 273 406 273 404 283 420 283 415 283 413 283 411 283 408 283 406 283 404 294 415 294 413 294 411 294 408 294 406 294 404 294 402 302 415 302 413 302 411 311 415 317 415 317 413 322 411 322 408 322 406 346 406 346 404 346 402 346 399 346 397 349 406 349 402 349 399 349 393 386 424 386 422 386 420 405 424 405 422 405 420 405 417 445 411 459 413 459 411 477 417 477 415 477 411 477 408 477 404 477 402 477 399 527 413 527 411 548 411 548 408 548 406 548 404 548 402 552 408 552 406 552 402 555 408 555 406 555 404 600 408 600 406 600 404 600 399 618 411 618 408 618 406 618 404 618 402 618 399 618 397 656 406 656 404 656 402 730 426 730 424 730 422 730 420 735 429 735 426 735 424 735 422 735 420 738 426 738 424 738 420 738 417 738 415 748 426 748 424 751 426 757 426 757 424 673 395 676 399 718 401 721 407 721 409 721 412 749 418 206 404 206 408 264 360 264 380 264 390 346 369 346 387 549 387 549 396 592 390 174 452 179 450 179 452 178 455 179 458 189 446 207 447 224 445 242 445 274 440 284 440 288 440 303 440 319 440 339 438 367 438 385 450 411 449 420 443 462 457 472 446 507 441 517 440 554 440 558 436 592 462 587 438 596 438 598 433 676 434 683 436 702 433 711 438 716 436 718 454 724 440 746 445 730 480 730 508"/>
</svg></body></html>
